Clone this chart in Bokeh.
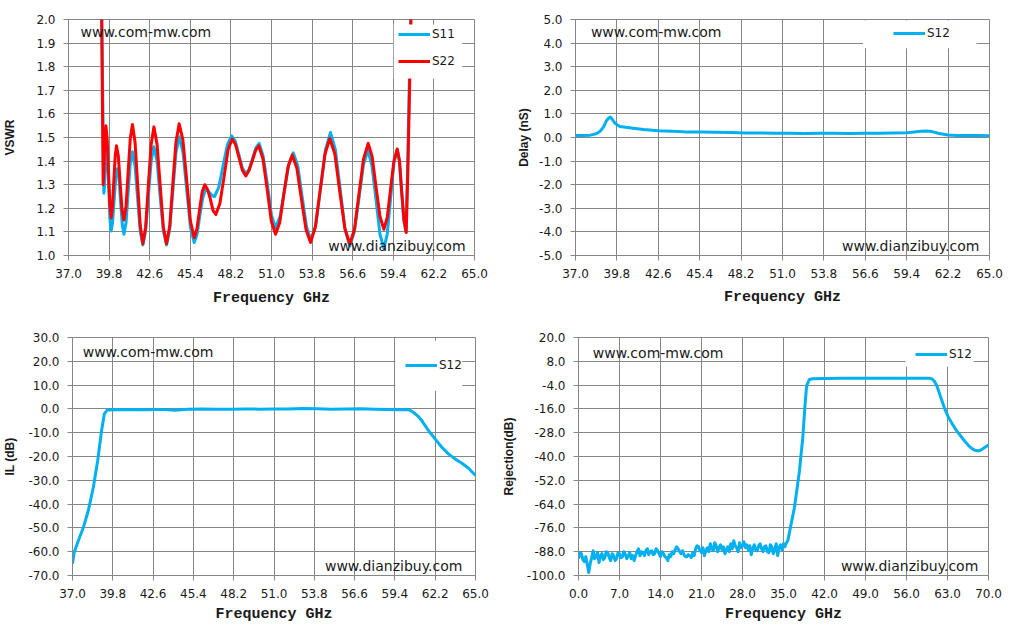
from bokeh.plotting import figure
from bokeh.layouts import column, row
from bokeh.models import Range1d, FixedTicker, Label, Legend, LegendItem, BoxAnnotation
from bokeh.embed import file_html
from bokeh.resources import INLINE

blue = '#00B0F0'
red = '#FF0000'
grid_color = '#868686'
text_color = '#1a1a1a'

# ---- data ----
ghz_ticks = [37.0, 39.8, 42.6, 45.4, 48.2, 51.0, 53.8, 56.6, 59.4, 62.2, 65.0]
ghz_labels = ['37.0', '39.8', '42.6', '45.4', '48.2', '51.0', '53.8', '56.6', '59.4', '62.2', '65.0']
wide_ticks = [0.0, 7.0, 14.0, 21.0, 28.0, 35.0, 42.0, 49.0, 56.0, 63.0, 70.0]
wide_labels = ['0.0', '7.0', '14.0', '21.0', '28.0', '35.0', '42.0', '49.0', '56.0', '63.0', '70.0']
vswr_ticks = [1.0, 1.1, 1.2, 1.3, 1.4, 1.5, 1.6, 1.7, 1.8, 1.9, 2.0]
vswr_labels = ['1.0', '1.1', '1.2', '1.3', '1.4', '1.5', '1.6', '1.7', '1.8', '1.9', '2.0']
delay_ticks = [-5.0, -4.0, -3.0, -2.0, -1.0, 0.0, 1.0, 2.0, 3.0, 4.0, 5.0]
delay_labels = ['-5.0', '-4.0', '-3.0', '-2.0', '-1.0', '0.0', '1.0', '2.0', '3.0', '4.0', '5.0']
il_ticks = [-70.0, -60.0, -50.0, -40.0, -30.0, -20.0, -10.0, 0.0, 10.0, 20.0, 30.0]
il_labels = ['-70.0', '-60.0', '-50.0', '-40.0', '-30.0', '-20.0', '-10.0', '0.0', '10.0', '20.0', '30.0']
rej_ticks = [-100.0, -88.0, -76.0, -64.0, -52.0, -40.0, -28.0, -16.0, -4.0, 8.0, 20.0]
rej_labels = ['-100.0', '-88.0', '-76.0', '-64.0', '-52.0', '-40.0', '-28.0', '-16.0', '-4.0', '8.0', '20.0']

s11_freq = [39.26, 39.44, 39.48, 39.52, 39.56, 39.60, 39.68, 39.77, 39.85, 39.94,
            40.04, 40.15, 40.26, 40.36, 40.48, 40.59, 40.71, 40.82, 40.97, 41.11,
            41.26, 41.41, 41.59, 41.77, 41.95, 42.13, 42.32, 42.51, 42.70, 42.89,
            43.11, 43.32, 43.54, 43.76, 43.98, 44.19, 44.41, 44.63, 44.89, 45.15,
            45.41, 45.67, 45.87, 46.06, 46.26, 46.45, 46.60, 46.76, 46.91, 47.07,
            47.37, 47.66, 47.96, 48.25, 48.50, 48.74, 48.99, 49.23, 49.46, 49.69,
            49.92, 50.15, 50.43, 50.72, 51.00, 51.28, 51.59, 51.89, 52.20, 52.50,
            52.81, 53.11, 53.42, 53.72, 54.06, 54.40, 54.73, 55.07, 55.40, 55.74,
            56.07, 56.40, 56.71, 57.03, 57.34, 57.65, 57.93, 58.20, 58.48, 58.75,
            58.98, 59.21, 59.44, 59.67, 59.82, 59.97, 60.12, 60.27, 60.38, 60.50,
            60.60, 60.70]
s11_vswr = [2.20, 1.264, 1.29, 1.37, 1.44, 1.47, 1.42, 1.29, 1.16, 1.104,
            1.14, 1.24, 1.33, 1.368, 1.33, 1.23, 1.13, 1.09, 1.14, 1.265,
            1.39, 1.44, 1.38, 1.24, 1.10, 1.045, 1.105, 1.25, 1.40, 1.461,
            1.40, 1.25, 1.105, 1.045, 1.11, 1.27, 1.435, 1.503, 1.44, 1.28,
            1.12, 1.055, 1.09, 1.17, 1.245, 1.278, 1.274, 1.264, 1.254, 1.25,
            1.29, 1.38, 1.47, 1.507, 1.485, 1.43, 1.37, 1.347, 1.366, 1.41,
            1.456, 1.475, 1.42, 1.30, 1.17, 1.118, 1.165, 1.275, 1.39, 1.435,
            1.38, 1.25, 1.12, 1.065, 1.13, 1.29, 1.45, 1.521, 1.45, 1.28,
            1.11, 1.04, 1.10, 1.24, 1.385, 1.445, 1.38, 1.24, 1.09, 1.03,
            1.09, 1.24, 1.39, 1.45, 1.40, 1.275, 1.15, 1.10, 1.35, 1.72,
            2.05, 2.40]

s22_freq = [39.26, 39.39, 39.44, 39.48, 39.53, 39.58, 39.67, 39.76, 39.85, 39.94,
            40.03, 40.12, 40.22, 40.31, 40.44, 40.56, 40.69, 40.82, 40.97, 41.11,
            41.26, 41.41, 41.59, 41.77, 41.95, 42.13, 42.32, 42.51, 42.70, 42.89,
            43.11, 43.32, 43.54, 43.76, 43.98, 44.19, 44.41, 44.63, 44.89, 45.15,
            45.41, 45.67, 45.85, 46.03, 46.22, 46.40, 46.59, 46.78, 46.97, 47.16,
            47.44, 47.72, 48.01, 48.29, 48.52, 48.76, 49.00, 49.23, 49.45, 49.67,
            49.90, 50.12, 50.41, 50.70, 50.99, 51.28, 51.57, 51.85, 52.14, 52.43,
            52.75, 53.06, 53.38, 53.69, 54.02, 54.35, 54.69, 55.02, 55.37, 55.71,
            56.06, 56.40, 56.72, 57.03, 57.35, 57.67, 57.94, 58.21, 58.48, 58.75,
            58.98, 59.21, 59.44, 59.67, 59.83, 59.98, 60.14, 60.29, 60.40, 60.54,
            60.64, 60.75]
s22_vswr = [2.20, 1.30, 1.36, 1.44, 1.52, 1.55, 1.49, 1.355, 1.22, 1.16,
            1.205, 1.31, 1.42, 1.465, 1.42, 1.31, 1.195, 1.15, 1.21, 1.35,
            1.495, 1.555, 1.48, 1.30, 1.125, 1.05, 1.12, 1.30, 1.47, 1.545,
            1.47, 1.30, 1.12, 1.05, 1.125, 1.30, 1.48, 1.558, 1.49, 1.32,
            1.145, 1.076, 1.11, 1.19, 1.27, 1.30, 1.28, 1.24, 1.19, 1.174,
            1.22, 1.33, 1.45, 1.493, 1.47, 1.415, 1.36, 1.337, 1.36, 1.40,
            1.445, 1.465, 1.41, 1.28, 1.145, 1.09, 1.14, 1.26, 1.375, 1.426,
            1.37, 1.24, 1.11, 1.055, 1.12, 1.275, 1.43, 1.496, 1.43, 1.27,
            1.115, 1.049, 1.11, 1.26, 1.41, 1.475, 1.42, 1.29, 1.165, 1.111,
            1.16, 1.28, 1.40, 1.451, 1.40, 1.27, 1.15, 1.097, 1.35, 1.76,
            2.05, 2.40]

delay_freq = [37.0, 37.5, 38.0, 38.4, 38.67, 38.9, 39.08, 39.2, 39.35, 39.5,
              39.69, 40.0, 40.4, 40.9, 41.6, 42.6, 43.5, 44.5, 45.5, 46.5,
              47.5, 48.5, 49.5, 50.5, 51.5, 52.5, 53.5, 54.5, 55.5, 56.5,
              57.5, 58.5, 59.4, 59.9, 60.4, 60.7, 61.1, 61.6, 62.2, 62.8,
              63.5, 64.2, 65.0]
delay_ns = [0.08, 0.08, 0.10, 0.16, 0.265, 0.45, 0.69, 0.80, 0.87, 0.76,
            0.59, 0.47, 0.43, 0.39, 0.34, 0.29, 0.27, 0.23, 0.23, 0.22,
            0.21, 0.19, 0.19, 0.18, 0.18, 0.17, 0.18, 0.18, 0.17, 0.18,
            0.18, 0.19, 0.20, 0.23, 0.27, 0.28, 0.25, 0.17, 0.11, 0.08,
            0.08, 0.09, 0.07]

il_freq = [37.0, 37.12, 37.41, 37.76, 38.10, 38.45, 38.75, 39.02, 39.21, 39.41,
           40.0, 41.0, 42.3, 43.2, 44.1, 45.0, 46.0, 47.0, 48.0, 49.0,
           50.0, 51.0, 52.0, 53.0, 54.0, 55.0, 56.0, 57.0, 58.0, 59.0,
           59.6, 60.24, 60.45, 60.70, 61.0, 61.28, 61.74, 62.19, 62.66, 63.12,
           63.57, 64.03, 64.5, 65.0]
il_db = [-65.1, -60.2, -55.3, -49.7, -42.7, -32.9, -21.7, -9.2, -2.1, -0.5,
         -0.4, -0.3, -0.4, -0.2, -0.6, -0.1, 0.0, -0.1, -0.1, 0.0,
         -0.1, 0.0, 0.0, 0.2, 0.1, -0.1, 0.0, 0.1, -0.1, -0.3,
         -0.4, -0.3, -0.6, -1.5, -3.0, -5.0, -9.2, -12.6, -16.1, -18.9,
         -21.0, -22.7, -24.8, -28.0]

rej_freq = [0.00, 0.25, 0.50, 0.75, 1.00, 1.25, 1.50, 1.75, 2.00, 2.25,
            2.50, 2.75, 3.00, 3.25, 3.50, 3.75, 4.00, 4.25, 4.50, 4.75,
            5.00, 5.25, 5.50, 5.75, 6.00, 6.25, 6.50, 6.75, 7.00, 7.25,
            7.50, 7.75, 8.00, 8.25, 8.50, 8.75, 9.00, 9.25, 9.50, 9.75,
            10.00, 10.25, 10.50, 10.75, 11.00, 11.25, 11.50, 11.75, 12.00, 12.25,
            12.50, 12.75, 13.00, 13.25, 13.50, 13.75, 14.00, 14.25, 14.50, 14.75,
            15.00, 15.25, 15.50, 15.75, 16.00, 16.25, 16.50, 16.75, 17.00, 17.25,
            17.50, 17.75, 18.00, 18.25, 18.50, 18.75, 19.00, 19.25, 19.50, 19.75,
            20.00, 20.25, 20.50, 20.75, 21.00, 21.25, 21.50, 21.75, 22.00, 22.25,
            22.50, 22.75, 23.00, 23.25, 23.50, 23.75, 24.00, 24.25, 24.50, 24.75,
            25.00, 25.25, 25.50, 25.75, 26.00, 26.25, 26.50, 26.75, 27.00, 27.25,
            27.50, 27.75, 28.00, 28.25, 28.50, 28.75, 29.00, 29.25, 29.50, 29.75,
            30.00, 30.25, 30.50, 30.75, 31.00, 31.25, 31.50, 31.75, 32.00, 32.25,
            32.50, 32.75, 33.00, 33.25, 33.50, 33.75, 34.00, 34.25, 34.50, 34.75,
            35.00, 35.25, 35.50, 35.74, 36.10, 36.87, 37.30, 37.72, 38.29, 38.68,
            38.90, 39.02, 39.42, 40.00, 42.00, 45.00, 50.00, 55.00, 58.00, 60.00,
            60.37, 60.80, 61.20, 61.60, 62.08, 62.60, 63.20, 63.90, 64.60, 65.30,
            66.00, 66.60, 67.17, 67.70, 68.30, 68.80, 69.15, 69.60, 70.00]
rej_db = [-91.5, -88.5, -89.0, -92.0, -93.0, -90.5, -94.5, -98.5, -94.0, -91.0,
          -87.5, -91.5, -90.5, -88.5, -93.5, -90.0, -89.0, -92.0, -91.0, -88.0,
          -88.5, -91.0, -92.5, -89.0, -90.0, -92.5, -91.5, -88.5, -89.0, -91.0,
          -90.5, -88.0, -89.5, -91.5, -90.0, -88.5, -91.5, -90.0, -92.5, -90.0,
          -88.0, -86.5, -90.0, -88.0, -88.5, -90.0, -87.5, -86.5, -89.5, -88.0,
          -87.5, -89.5, -89.0, -86.5, -87.5, -89.0, -90.5, -88.0, -89.0, -90.5,
          -91.0, -92.5, -89.5, -90.5, -88.0, -89.0, -87.0, -85.5, -86.5, -88.0,
          -89.0, -87.5, -89.5, -90.5, -90.5, -89.5, -90.0, -91.0, -88.5, -90.0,
          -86.5, -85.0, -85.5, -87.5, -88.5, -86.0, -90.0, -87.5, -86.0, -88.0,
          -84.0, -86.5, -87.5, -83.5, -85.0, -88.0, -86.0, -84.5, -87.0, -85.5,
          -89.0, -87.0, -85.5, -88.0, -84.0, -86.5, -82.5, -85.0, -86.0, -88.0,
          -83.5, -86.0, -85.0, -83.0, -86.0, -84.5, -87.0, -85.0, -89.5, -86.5,
          -84.5, -87.0, -87.5, -85.0, -84.0, -86.5, -88.0, -85.5, -85.0, -88.0,
          -88.5, -84.5, -85.5, -89.0, -87.0, -84.0, -90.0, -86.0, -84.5, -87.0,
          -84.0, -85.5, -83.5, -82.4, -77.0, -65.7, -56.5, -47.3, -30.5, -13.8,
          -6.0, -3.8, -1.2, -0.8, -0.7, -0.6, -0.5, -0.5, -0.6, -0.6,
          -0.9, -2.2, -4.5, -8.0, -12.1, -16.5, -20.5, -24.0, -27.2, -29.8,
          -32.5, -34.5, -36.0, -36.9, -37.2, -36.6, -35.8, -35.0, -34.2]


def make_panel(width, height, borders, x_range, y_range, x_ticks, y_ticks, y_label,
               y_label_standoff, x_label_standoff):
    left, right, top, bottom = borders
    p = figure(width=width, height=height, output_backend='svg', toolbar_location=None,
               x_range=Range1d(*x_range), y_range=Range1d(*y_range),
               min_border_left=left, min_border_right=right,
               min_border_top=top, min_border_bottom=bottom)
    p.outline_line_color = grid_color
    xt, xl = x_ticks
    yt, yl = y_ticks
    p.xaxis.ticker = FixedTicker(ticks=xt)
    p.yaxis.ticker = FixedTicker(ticks=yt)
    p.xgrid.ticker = FixedTicker(ticks=xt)
    p.ygrid.ticker = FixedTicker(ticks=yt)
    p.xaxis.major_label_overrides = dict(zip(xt, xl))
    p.yaxis.major_label_overrides = dict(zip(yt, yl))
    for grid in (p.xgrid, p.ygrid):
        grid.grid_line_color = grid_color
        grid.grid_line_alpha = 1.0
        grid.grid_line_width = 1
    for axis in (p.xaxis, p.yaxis):
        axis.axis_line_color = grid_color
        axis.major_tick_line_color = grid_color
        axis.major_tick_in = 0
        axis.major_tick_out = 5
        axis.minor_tick_line_color = None
        axis.major_label_standoff = 8
        axis.major_label_text_font = 'DejaVu Sans'
        axis.major_label_text_font_size = '12px'
        axis.major_label_text_color = text_color
        axis.axis_label_text_color = text_color
        axis.axis_label_text_font_style = 'bold'
    p.xaxis.axis_label = 'Frequency GHz'
    p.xaxis.axis_label_text_font = 'Liberation Mono'
    p.xaxis.axis_label_text_font_size = '15px'
    p.xaxis.axis_label_standoff = x_label_standoff
    p.yaxis.axis_label = y_label
    p.yaxis.axis_label_text_font = 'Liberation Sans'
    p.yaxis.axis_label_text_font_size = '12px'
    p.yaxis.axis_label_standoff = y_label_standoff
    return p


def add_marks(p, top_mark, bottom_mark):
    for (x, y, txt) in (top_mark + ('www.com-mw.com',), bottom_mark + ('www.dianzibuy.com',)):
        p.add_layout(Label(x=x, y=y, text=txt, text_font='DejaVu Sans', text_font_size='14px',
                           text_baseline='middle', text_align='left', text_color=text_color))


def add_legend(p, items, box, location):
    left, right, bottom, top = box
    p.add_layout(BoxAnnotation(left=left, right=right, bottom=bottom, top=top,
                               fill_color='white', fill_alpha=1.0, line_color=None))
    legend = Legend(items=items, location=location, padding=0, spacing=7, margin=0,
                    glyph_width=32, glyph_height=20, label_height=20, label_standoff=2,
                    border_line_color=None, background_fill_alpha=0,
                    label_text_font='DejaVu Sans', label_text_font_size='12px',
                    label_text_color=text_color)
    p.add_layout(legend)


# VSWR
p1 = make_panel(498, 324, (68, 24, 15, 69), (37.0, 65.0), (1.0, 2.0),
                (ghz_ticks, ghz_labels), (vswr_ticks, vswr_labels), 'VSWR', 16, 9)
r11 = p1.line(s11_freq, s11_vswr, line_color=blue, line_width=3, line_join='round')
r22 = p1.line(s22_freq, s22_vswr, line_color=red, line_width=3, line_join='round')
add_marks(p1, (37.83, 1.946), (54.91, 1.042))
add_legend(p1, [LegendItem(label='S11', renderers=[r11]), LegendItem(label='S22', renderers=[r22])],
           (59.43, 64.15, 1.75, 1.979), (330, 184))

# Delay
p2 = make_panel(505, 324, (77, 14, 19, 67), (37.0, 65.0), (-5.0, 5.0),
                (ghz_ticks, ghz_labels), (delay_ticks, delay_labels), 'Delay (nS)', 5, 8)
rd = p2.line(delay_freq, delay_ns, line_color=blue, line_width=3, line_join='round')
add_marks(p2, (38.04, 4.47), (55.03, -4.59))
add_legend(p2, [LegendItem(label='S12', renderers=[rd])], (56.45, 64.12, 3.78, 4.958), (318, 212))

# Insertion loss
p3 = make_panel(498, 302, (69, 23, 13, 51), (37.0, 65.0), (-70.0, 30.0),
                (ghz_ticks, ghz_labels), (il_ticks, il_labels), 'IL (dB)', 8, 5)
ri = p3.line(il_freq, il_db, line_color=blue, line_width=3, line_join='round')
add_marks(p3, (37.71, 23.7), (54.54, -66.1))
add_legend(p3, [LegendItem(label='S12', renderers=[ri])], (59.43, 64.08, 7.6, 28.6), (333, 200))

# Rejection
p4 = make_panel(505, 302, (78, 15, 12, 51), (0.0, 70.0), (-100.0, 20.0),
                (wide_ticks, wide_labels), (rej_ticks, rej_labels), 'Rejection(dB)', 8, 5)
rr = p4.line(rej_freq, rej_db, line_color=blue, line_width=3, line_join='round')
add_marks(p4, (2.45, 12.1), (44.8, -95.3))
add_legend(p4, [LegendItem(label='S12', renderers=[rr])], (55.84, 67.45, 5.44, 19.75), (337, 211))

layout = column(row(p1, p2), row(p3, p4))
open('out.html', 'w').write(file_html(layout, INLINE))
